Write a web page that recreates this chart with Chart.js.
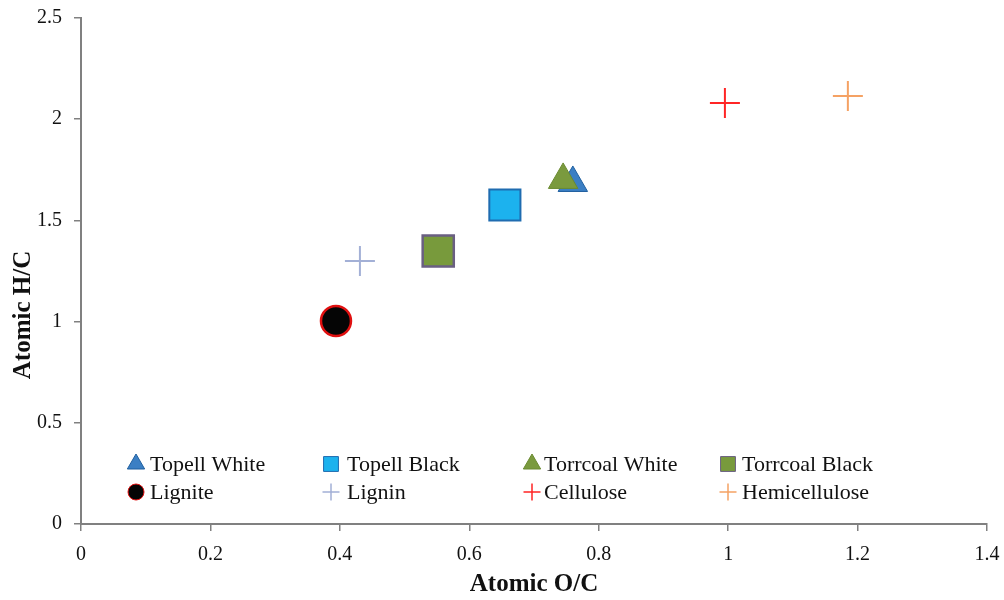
<!DOCTYPE html>
<html><head><meta charset="utf-8">
<script src="https://cdn.jsdelivr.net/npm/chart.js@4"></script>
<style>html,body{margin:0;padding:0;background:#fff}#wrap{width:1004px;height:600px}</style>
</head><body><div id="wrap"><canvas id="c" width="1004" height="600"></canvas></div>
<script>
const seriesNames = ["Topell White","Topell Black","Torrcoal White","Torrcoal Black","Lignite","Lignin","Cellulose","Hemicellulose"];
const oc = [0.76, 0.655, 0.745, 0.552, 0.394, 0.431, 0.995, 1.185];
const hc = [1.685, 1.576, 1.70, 1.349, 1.003, 1.30, 2.08, 2.115];
const xTicks = [0, 0.2, 0.4, 0.6, 0.8, 1, 1.2, 1.4];
const yTicks = [0, 0.5, 1, 1.5, 2, 2.5];

const styles = [
  {pointStyle:'triangle', radius:17, bg:'#3b7fc4', border:'#1f5f9f', bw:1, lr:10, order:2},
  {pointStyle:'rect', radius:22, bg:'#1cb2ee', border:'#1f6cb0', bw:2, lr:10.5, order:1},
  {pointStyle:'triangle', radius:17, bg:'#7a9a3e', border:'#6a8a30', bw:1, lr:10, order:0},
  {pointStyle:'rect', radius:22, bg:'#789a3c', border:'#6a5f82', bw:2.5, lr:10.5, order:1},
  {pointStyle:'circle', radius:15, bg:'#050505', border:'#e01010', bw:2.5, lr:8, order:1},
  {pointStyle:'cross', radius:15, bg:'#a3b0d6', border:'#a3b0d6', bw:2, lr:8.5, order:1},
  {pointStyle:'cross', radius:15, bg:'#ff2525', border:'#ff2525', bw:2, lr:8.5, order:1},
  {pointStyle:'cross', radius:15, bg:'#f5a264', border:'#f5a264', bw:2, lr:8.5, order:1}
];

const datasets = seriesNames.map((n,i)=>({
  label:n,
  data:[{x:oc[i], y:hc[i]}],
  pointStyle:styles[i].pointStyle,
  pointRadius:styles[i].radius,
  pointHoverRadius:styles[i].radius,
  backgroundColor:styles[i].bg,
  borderColor:styles[i].border,
  pointBorderWidth:styles[i].bw,
  order:styles[i].order
}));

const FONT = "'Liberation Serif', 'Times New Roman', serif";

const legendPlugin = {
  id:'insideLegend',
  afterDraw(chart){
    const ctx = chart.ctx, ca = chart.chartArea;
    const markX = [55, 250, 451, 647];
    const textX = [69, 266, 463, 661];
    const rowY = [464, 492];
    ctx.save();
    ctx.font = "22px " + FONT;
    ctx.textBaseline = 'middle';
    ctx.textAlign = 'left';
    seriesNames.forEach((n,i)=>{
      const col = i%4, row = Math.floor(i/4);
      const my = rowY[row];
      const s = styles[i];
      ctx.fillStyle = s.bg; ctx.strokeStyle = s.border;
      ctx.lineWidth = s.pointStyle==='cross'?1.5:1;
      Chart.helpers.drawPoint(ctx, {pointStyle:s.pointStyle, radius:s.lr, rotation:0, borderWidth:ctx.lineWidth}, ca.left + markX[col], my);
      ctx.fillStyle = '#111';
      ctx.fillText(n, ca.left + textX[col], my + 1);
    });
    // y axis title
    ctx.save();
    ctx.translate(24, 315);
    ctx.rotate(-Math.PI/2);
    ctx.font = "bold 25px " + FONT;
    ctx.textAlign = 'center';
    ctx.fillText('Atomic H/C', 0, 0);
    ctx.restore();
    ctx.restore();
  }
};

new Chart(document.getElementById('c'), {
  type:'scatter',
  data:{datasets},
  plugins:[legendPlugin],
  options:{
    responsive:false,
    animation:false,
    devicePixelRatio:1,
    layout:{autoPadding:false, padding:{top:18,right:17,left:0,bottom:0}},
    plugins:{legend:{display:false}, tooltip:{enabled:false}},
    scales:{
      x:{
        type:'linear', min:0, max:1.4,
        afterBuildTicks(s){ s.ticks = xTicks.map(v=>({value:v})); },
        afterFit(s){ s.height = 76; s.paddingRight = 0; s.paddingLeft = 0; },
        grid:{display:true, drawOnChartArea:false, drawTicks:true, tickLength:7, color:'#808080', lineWidth:1.5},
        border:{display:true, color:'#808080', width:2},
        ticks:{color:'#111', font:{family:FONT, size:20}, padding:12, maxRotation:0, callback:v=>String(v)},
        title:{display:true, text:'Atomic O/C', color:'#111', font:{family:FONT, size:25, weight:'bold'}, padding:{top:0,bottom:0}}
      },
      y:{
        type:'linear', min:0, max:2.5,
        afterBuildTicks(s){ s.ticks = yTicks.map(v=>({value:v})); },
        afterFit(s){ s.width = 81; s.paddingTop = 0; s.paddingBottom = 0; },
        grid:{display:true, drawOnChartArea:false, drawTicks:true, tickLength:7, color:'#808080', lineWidth:1.5},
        border:{display:true, color:'#808080', width:2},
        ticks:{color:'#111', font:{family:FONT, size:20}, padding:12, callback:v=>String(v)},
        title:{display:false}
      }
    }
  }
});
</script></body></html>
